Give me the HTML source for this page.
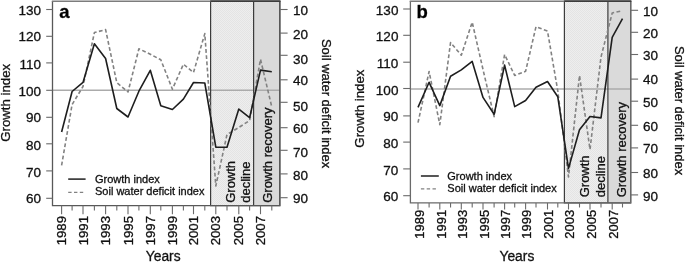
<!DOCTYPE html>
<html><head><meta charset="utf-8"><style>
html,body{margin:0;padding:0;background:#fff;}
body{width:685px;height:262px;overflow:hidden;}
svg{display:block;filter:grayscale(100%);}
text{stroke:#111;stroke-width:0.3px;}
.t{font-family:"Liberation Sans", sans-serif;font-size:13.5px;fill:#111;}
.r{font-family:"Liberation Sans", sans-serif;font-size:13px;fill:#111;}
.gi{font-family:"Liberation Sans", sans-serif;font-size:13.25px;fill:#111;}
.lg{font-family:"Liberation Sans", sans-serif;font-size:11px;fill:#111;}
.pl{font-family:"Liberation Sans", sans-serif;font-size:18.5px;font-weight:bold;fill:#000;}
</style></head><body>
<svg width="685" height="262" viewBox="0 0 685 262">
<defs>
<pattern id="chk" width="2" height="2" patternUnits="userSpaceOnUse">
<rect width="2" height="2" fill="#eeeeee"/>
<rect width="1" height="1" fill="#e4e4e4"/>
<rect x="1" y="1" width="1" height="1" fill="#e4e4e4"/>
</pattern>
</defs>
<rect width="685" height="262" fill="#fff"/>
<rect x="210.6" y="1" width="43" height="204.6" fill="url(#chk)"/>
<rect x="253.6" y="1" width="26.2" height="204.6" fill="#dadada"/>
<line x1="52.5" y1="90.3" x2="279.8" y2="90.3" stroke="#ababab" stroke-width="1.6"/>
<rect x="210.6" y="1" width="69.2" height="204.6" fill="none" stroke="#3c3c3c" stroke-width="1.2"/>
<line x1="253.6" y1="1" x2="253.6" y2="205.6" stroke="#3c3c3c" stroke-width="1.2"/>
<polyline points="61.6,165.4 72.1,104.5 83,86.5 94.4,32.6 105.6,29.6 116.8,82.7 128,92 138.9,48.8 150.3,54.2 160.8,59.8 172.4,89.2 183.4,64.2 193.5,72.5 204.8,33.6 215.8,186 227,134.5 238.8,127.5 249.6,120.5 260.5,59.3 271.8,107" fill="none" stroke="#828282" stroke-width="1.6" stroke-dasharray="3.8 2.4" stroke-linejoin="round"/>
<polyline points="61.6,132 72.1,91.5 83,82.4 94.4,43.8 105.6,58.5 116.8,108.5 128,117 138.9,91.2 150.3,70.3 160.8,105.8 172.4,109.5 183.4,99.1 193.5,82.5 204.8,83 215.8,147.2 227,147.2 238.8,109.1 249.6,117.7 260.5,70.1 271.8,71.7" fill="none" stroke="#1e1e1e" stroke-width="1.6" stroke-linejoin="round"/>
<path d="M52.5,1 V205.6 H279.8 V1" fill="none" stroke="#585858" stroke-width="1.3"/>
<line x1="51.85" y1="1.15" x2="210.6" y2="1.15" stroke="#7c7c7c" stroke-width="1.5"/>
<line x1="210.6" y1="1.15" x2="280.45" y2="1.15" stroke="#3c3c3c" stroke-width="1.5"/>
<line x1="46.2" y1="9.5" x2="52.5" y2="9.5" stroke="#6a6a6a" stroke-width="1.1"/>
<text x="41" y="14.9" text-anchor="end" class="t">130</text>
<line x1="46.2" y1="36.3" x2="52.5" y2="36.3" stroke="#6a6a6a" stroke-width="1.1"/>
<text x="41" y="41.25" text-anchor="end" class="t">120</text>
<line x1="46.2" y1="62.9" x2="52.5" y2="62.9" stroke="#6a6a6a" stroke-width="1.1"/>
<text x="41" y="69.05" text-anchor="end" class="t">110</text>
<line x1="46.2" y1="90.3" x2="52.5" y2="90.3" stroke="#6a6a6a" stroke-width="1.1"/>
<text x="41" y="95.65" text-anchor="end" class="t">100</text>
<line x1="46.2" y1="117.3" x2="52.5" y2="117.3" stroke="#6a6a6a" stroke-width="1.1"/>
<text x="41" y="122.3" text-anchor="end" class="t">90</text>
<line x1="46.2" y1="143.8" x2="52.5" y2="143.8" stroke="#6a6a6a" stroke-width="1.1"/>
<text x="41" y="150.05" text-anchor="end" class="t">80</text>
<line x1="46.2" y1="170.9" x2="52.5" y2="170.9" stroke="#6a6a6a" stroke-width="1.1"/>
<text x="41" y="177.05" text-anchor="end" class="t">70</text>
<line x1="46.2" y1="198.3" x2="52.5" y2="198.3" stroke="#6a6a6a" stroke-width="1.1"/>
<text x="41" y="203.1" text-anchor="end" class="t">60</text>
<line x1="279.8" y1="9.5" x2="287.6" y2="9.5" stroke="#6a6a6a" stroke-width="1.1"/>
<text x="293" y="14.65" class="t">10</text>
<line x1="279.8" y1="33.1" x2="287.6" y2="33.1" stroke="#6a6a6a" stroke-width="1.1"/>
<text x="293" y="38.55" class="t">20</text>
<line x1="279.8" y1="55.3" x2="287.6" y2="55.3" stroke="#6a6a6a" stroke-width="1.1"/>
<text x="293" y="63.55" class="t">30</text>
<line x1="279.8" y1="79.8" x2="287.6" y2="79.8" stroke="#6a6a6a" stroke-width="1.1"/>
<text x="293" y="85.4" class="t">40</text>
<line x1="279.8" y1="102.3" x2="287.6" y2="102.3" stroke="#6a6a6a" stroke-width="1.1"/>
<text x="293" y="110.75" class="t">50</text>
<line x1="279.8" y1="127.7" x2="287.6" y2="127.7" stroke="#6a6a6a" stroke-width="1.1"/>
<text x="293" y="132.8" class="t">60</text>
<line x1="279.8" y1="150.3" x2="287.6" y2="150.3" stroke="#6a6a6a" stroke-width="1.1"/>
<text x="293" y="157.4" class="t">70</text>
<line x1="279.8" y1="173.9" x2="287.6" y2="173.9" stroke="#6a6a6a" stroke-width="1.1"/>
<text x="293" y="180.1" class="t">80</text>
<line x1="279.8" y1="197.7" x2="287.6" y2="197.7" stroke="#6a6a6a" stroke-width="1.1"/>
<text x="293" y="203.3" class="t">90</text>
<line x1="61.6" y1="205.6" x2="61.6" y2="214.2" stroke="#6a6a6a" stroke-width="1.1"/>
<text transform="translate(66.2,216) rotate(-90)" text-anchor="end" class="t" style="font-size:13.2px">1989</text>
<line x1="72.1" y1="205.6" x2="72.1" y2="210.5" stroke="#6a6a6a" stroke-width="1.1"/>
<line x1="83" y1="205.6" x2="83" y2="214.2" stroke="#6a6a6a" stroke-width="1.1"/>
<text transform="translate(87.6,216) rotate(-90)" text-anchor="end" class="t" style="font-size:13.2px">1991</text>
<line x1="94.4" y1="205.6" x2="94.4" y2="210.5" stroke="#6a6a6a" stroke-width="1.1"/>
<line x1="105.6" y1="205.6" x2="105.6" y2="214.2" stroke="#6a6a6a" stroke-width="1.1"/>
<text transform="translate(110.2,216) rotate(-90)" text-anchor="end" class="t" style="font-size:13.2px">1993</text>
<line x1="116.8" y1="205.6" x2="116.8" y2="210.5" stroke="#6a6a6a" stroke-width="1.1"/>
<line x1="128" y1="205.6" x2="128" y2="214.2" stroke="#6a6a6a" stroke-width="1.1"/>
<text transform="translate(132.6,216) rotate(-90)" text-anchor="end" class="t" style="font-size:13.2px">1995</text>
<line x1="138.9" y1="205.6" x2="138.9" y2="210.5" stroke="#6a6a6a" stroke-width="1.1"/>
<line x1="150.3" y1="205.6" x2="150.3" y2="214.2" stroke="#6a6a6a" stroke-width="1.1"/>
<text transform="translate(154.9,216) rotate(-90)" text-anchor="end" class="t" style="font-size:13.2px">1997</text>
<line x1="160.8" y1="205.6" x2="160.8" y2="210.5" stroke="#6a6a6a" stroke-width="1.1"/>
<line x1="172.4" y1="205.6" x2="172.4" y2="214.2" stroke="#6a6a6a" stroke-width="1.1"/>
<text transform="translate(177,216) rotate(-90)" text-anchor="end" class="t" style="font-size:13.2px">1999</text>
<line x1="183.4" y1="205.6" x2="183.4" y2="210.5" stroke="#6a6a6a" stroke-width="1.1"/>
<line x1="193.5" y1="205.6" x2="193.5" y2="214.2" stroke="#6a6a6a" stroke-width="1.1"/>
<text transform="translate(198.1,216) rotate(-90)" text-anchor="end" class="t" style="font-size:13.2px">2001</text>
<line x1="204.8" y1="205.6" x2="204.8" y2="210.5" stroke="#6a6a6a" stroke-width="1.1"/>
<line x1="215.8" y1="205.6" x2="215.8" y2="214.2" stroke="#6a6a6a" stroke-width="1.1"/>
<text transform="translate(220.4,216) rotate(-90)" text-anchor="end" class="t" style="font-size:13.2px">2003</text>
<line x1="227" y1="205.6" x2="227" y2="210.5" stroke="#6a6a6a" stroke-width="1.1"/>
<line x1="238.8" y1="205.6" x2="238.8" y2="214.2" stroke="#6a6a6a" stroke-width="1.1"/>
<text transform="translate(243.4,216) rotate(-90)" text-anchor="end" class="t" style="font-size:13.2px">2005</text>
<line x1="249.6" y1="205.6" x2="249.6" y2="210.5" stroke="#6a6a6a" stroke-width="1.1"/>
<line x1="260.5" y1="205.6" x2="260.5" y2="214.2" stroke="#6a6a6a" stroke-width="1.1"/>
<text transform="translate(265.1,216) rotate(-90)" text-anchor="end" class="t" style="font-size:13.2px">2007</text>
<line x1="271.8" y1="205.6" x2="271.8" y2="210.5" stroke="#6a6a6a" stroke-width="1.1"/>
<text x="163.2" y="261" text-anchor="middle" class="t" style="font-size:13.8px">Years</text>
<text transform="translate(10.3,102.8) rotate(-90)" text-anchor="middle" class="gi">Growth index</text>
<text transform="translate(322.3,103.6) rotate(90)" text-anchor="middle" class="r">Soil water deficit index</text>
<text transform="translate(234.7,202.8) rotate(-90)" class="r">Growth</text>
<text transform="translate(250.4,202.8) rotate(-90)" class="r">decline</text>
<text transform="translate(272.3,202.8) rotate(-90)" class="r">Growth recovery</text>
<line x1="68.2" y1="179.1" x2="85.6" y2="179.1" stroke="#1e1e1e" stroke-width="1.5"/>
<line x1="68.2" y1="192.4" x2="83.2" y2="192.4" stroke="#828282" stroke-width="1.3" stroke-dasharray="3.4 2.4"/>
<text x="95" y="182.8" class="lg">Growth index</text>
<text x="95" y="195.2" class="lg">Soil water deficit index</text>
<text x="59.2" y="17.5" class="pl">a</text>
<rect x="564.4" y="1" width="43.5" height="201.9" fill="url(#chk)"/>
<rect x="607.9" y="1" width="22.8" height="201.9" fill="#dadada"/>
<line x1="410.4" y1="89" x2="630.7" y2="89" stroke="#ababab" stroke-width="1.6"/>
<rect x="564.4" y="1" width="66.3" height="201.9" fill="none" stroke="#3c3c3c" stroke-width="1.2"/>
<line x1="607.9" y1="1" x2="607.9" y2="202.9" stroke="#3c3c3c" stroke-width="1.2"/>
<polyline points="418,122.7 429.1,71.5 439.8,124.6 450.55,42.5 461.3,55.2 472.2,22.2 483,69.5 494.1,116.6 504.6,54.5 514.7,75.5 525.6,71.3 536,26.7 547.5,31 557.8,91 568.5,177 579.5,75.5 590,149.5 601,57 612.2,13 622.5,10.8" fill="none" stroke="#828282" stroke-width="1.6" stroke-dasharray="3.8 2.4" stroke-linejoin="round"/>
<polyline points="418,107.4 429.1,82.3 439.8,105.6 450.55,76.3 461.3,69.9 472.2,61.4 483,97.4 494.1,114.3 504.6,65.1 514.7,106.6 525.6,100.5 536,87.2 547.5,81.5 557.8,96.8 568.5,168.4 579.5,129.7 590,116.5 601,117.9 612.2,37.4 622.5,18.6" fill="none" stroke="#1e1e1e" stroke-width="1.6" stroke-linejoin="round"/>
<path d="M410.4,1 V202.9 H630.7 V1" fill="none" stroke="#6a6a6a" stroke-width="1.3"/>
<line x1="409.75" y1="1.15" x2="564.4" y2="1.15" stroke="#7c7c7c" stroke-width="1.5"/>
<line x1="564.4" y1="1.15" x2="631.35" y2="1.15" stroke="#3c3c3c" stroke-width="1.5"/>
<line x1="403.2" y1="9" x2="410.4" y2="9" stroke="#6a6a6a" stroke-width="1.1"/>
<text x="398.4" y="14.9" text-anchor="end" class="t">130</text>
<line x1="403.2" y1="35.3" x2="410.4" y2="35.3" stroke="#6a6a6a" stroke-width="1.1"/>
<text x="398.4" y="41.25" text-anchor="end" class="t">120</text>
<line x1="403.2" y1="62.2" x2="410.4" y2="62.2" stroke="#6a6a6a" stroke-width="1.1"/>
<text x="398.4" y="67.7" text-anchor="end" class="t">110</text>
<line x1="403.2" y1="88.5" x2="410.4" y2="88.5" stroke="#6a6a6a" stroke-width="1.1"/>
<text x="398.4" y="94.65" text-anchor="end" class="t">100</text>
<line x1="403.2" y1="115.9" x2="410.4" y2="115.9" stroke="#6a6a6a" stroke-width="1.1"/>
<text x="398.4" y="120.9" text-anchor="end" class="t">90</text>
<line x1="403.2" y1="142.1" x2="410.4" y2="142.1" stroke="#6a6a6a" stroke-width="1.1"/>
<text x="398.4" y="147.5" text-anchor="end" class="t">80</text>
<line x1="403.2" y1="168.9" x2="410.4" y2="168.9" stroke="#6a6a6a" stroke-width="1.1"/>
<text x="398.4" y="174.5" text-anchor="end" class="t">70</text>
<line x1="403.2" y1="195.7" x2="410.4" y2="195.7" stroke="#6a6a6a" stroke-width="1.1"/>
<text x="398.4" y="200.8" text-anchor="end" class="t">60</text>
<line x1="630.7" y1="10.3" x2="638.1" y2="10.3" stroke="#6a6a6a" stroke-width="1.1"/>
<text x="643" y="16.05" class="t">10</text>
<line x1="630.7" y1="32.3" x2="638.1" y2="32.3" stroke="#6a6a6a" stroke-width="1.1"/>
<text x="643" y="38.05" class="t">20</text>
<line x1="630.7" y1="54.5" x2="638.1" y2="54.5" stroke="#6a6a6a" stroke-width="1.1"/>
<text x="643" y="59.9" class="t">30</text>
<line x1="630.7" y1="79.1" x2="638.1" y2="79.1" stroke="#6a6a6a" stroke-width="1.1"/>
<text x="643" y="84.45" class="t">40</text>
<line x1="630.7" y1="101.2" x2="638.1" y2="101.2" stroke="#6a6a6a" stroke-width="1.1"/>
<text x="643" y="106.55" class="t">50</text>
<line x1="630.7" y1="125.3" x2="638.1" y2="125.3" stroke="#6a6a6a" stroke-width="1.1"/>
<text x="643" y="130.65" class="t">60</text>
<line x1="630.7" y1="147.9" x2="638.1" y2="147.9" stroke="#6a6a6a" stroke-width="1.1"/>
<text x="643" y="152.7" class="t">70</text>
<line x1="630.7" y1="172.5" x2="638.1" y2="172.5" stroke="#6a6a6a" stroke-width="1.1"/>
<text x="643" y="177.65" class="t">80</text>
<line x1="630.7" y1="194.9" x2="638.1" y2="194.9" stroke="#6a6a6a" stroke-width="1.1"/>
<text x="643" y="200.65" class="t">90</text>
<line x1="418" y1="202.9" x2="418" y2="209.5" stroke="#6a6a6a" stroke-width="1.1"/>
<text transform="translate(423.8,209.8) rotate(-90)" text-anchor="end" class="t" style="font-size:13px">1989</text>
<line x1="429.1" y1="202.9" x2="429.1" y2="207.5" stroke="#6a6a6a" stroke-width="1.1"/>
<line x1="439.8" y1="202.9" x2="439.8" y2="209.5" stroke="#6a6a6a" stroke-width="1.1"/>
<text transform="translate(445.6,209.8) rotate(-90)" text-anchor="end" class="t" style="font-size:13px">1991</text>
<line x1="450.55" y1="202.9" x2="450.55" y2="207.5" stroke="#6a6a6a" stroke-width="1.1"/>
<line x1="461.3" y1="202.9" x2="461.3" y2="209.5" stroke="#6a6a6a" stroke-width="1.1"/>
<text transform="translate(467.1,209.8) rotate(-90)" text-anchor="end" class="t" style="font-size:13px">1993</text>
<line x1="472.2" y1="202.9" x2="472.2" y2="207.5" stroke="#6a6a6a" stroke-width="1.1"/>
<line x1="483" y1="202.9" x2="483" y2="209.5" stroke="#6a6a6a" stroke-width="1.1"/>
<text transform="translate(488.8,209.8) rotate(-90)" text-anchor="end" class="t" style="font-size:13px">1995</text>
<line x1="494.1" y1="202.9" x2="494.1" y2="207.5" stroke="#6a6a6a" stroke-width="1.1"/>
<line x1="504.6" y1="202.9" x2="504.6" y2="209.5" stroke="#6a6a6a" stroke-width="1.1"/>
<text transform="translate(510.4,209.8) rotate(-90)" text-anchor="end" class="t" style="font-size:13px">1997</text>
<line x1="514.7" y1="202.9" x2="514.7" y2="207.5" stroke="#6a6a6a" stroke-width="1.1"/>
<line x1="525.6" y1="202.9" x2="525.6" y2="209.5" stroke="#6a6a6a" stroke-width="1.1"/>
<text transform="translate(531.4,209.8) rotate(-90)" text-anchor="end" class="t" style="font-size:13px">1999</text>
<line x1="536" y1="202.9" x2="536" y2="207.5" stroke="#6a6a6a" stroke-width="1.1"/>
<line x1="547.5" y1="202.9" x2="547.5" y2="209.5" stroke="#6a6a6a" stroke-width="1.1"/>
<text transform="translate(553.3,209.8) rotate(-90)" text-anchor="end" class="t" style="font-size:13px">2001</text>
<line x1="557.8" y1="202.9" x2="557.8" y2="207.5" stroke="#6a6a6a" stroke-width="1.1"/>
<line x1="568.5" y1="202.9" x2="568.5" y2="209.5" stroke="#6a6a6a" stroke-width="1.1"/>
<text transform="translate(574.3,209.8) rotate(-90)" text-anchor="end" class="t" style="font-size:13px">2003</text>
<line x1="579.5" y1="202.9" x2="579.5" y2="207.5" stroke="#6a6a6a" stroke-width="1.1"/>
<line x1="590" y1="202.9" x2="590" y2="209.5" stroke="#6a6a6a" stroke-width="1.1"/>
<text transform="translate(595.8,209.8) rotate(-90)" text-anchor="end" class="t" style="font-size:13px">2005</text>
<line x1="601" y1="202.9" x2="601" y2="207.5" stroke="#6a6a6a" stroke-width="1.1"/>
<line x1="612.2" y1="202.9" x2="612.2" y2="209.5" stroke="#6a6a6a" stroke-width="1.1"/>
<text transform="translate(618,209.8) rotate(-90)" text-anchor="end" class="t" style="font-size:13px">2007</text>
<line x1="622.5" y1="202.9" x2="622.5" y2="207.5" stroke="#6a6a6a" stroke-width="1.1"/>
<text x="516.9" y="260.6" text-anchor="middle" class="t" style="font-size:13.8px">Years</text>
<text transform="translate(364,108.6) rotate(-90)" text-anchor="middle" class="gi">Growth index</text>
<text transform="translate(674.7,110.6) rotate(90)" text-anchor="middle" class="r">Soil water deficit index</text>
<text transform="translate(588.9,197.3) rotate(-90)" class="r">Growth</text>
<text transform="translate(605.2,197.3) rotate(-90)" class="r">decline</text>
<text transform="translate(625.8,197.3) rotate(-90)" class="r">Growth recovery</text>
<line x1="420.9" y1="176" x2="438.8" y2="176" stroke="#1e1e1e" stroke-width="1.5"/>
<line x1="420.9" y1="188.8" x2="437" y2="188.8" stroke="#828282" stroke-width="1.3" stroke-dasharray="3.4 2.4"/>
<text x="447.3" y="180" class="lg">Growth index</text>
<text x="447.3" y="192.4" class="lg">Soil water deficit index</text>
<text x="416.4" y="17.8" class="pl">b</text>
</svg>
</body></html>
